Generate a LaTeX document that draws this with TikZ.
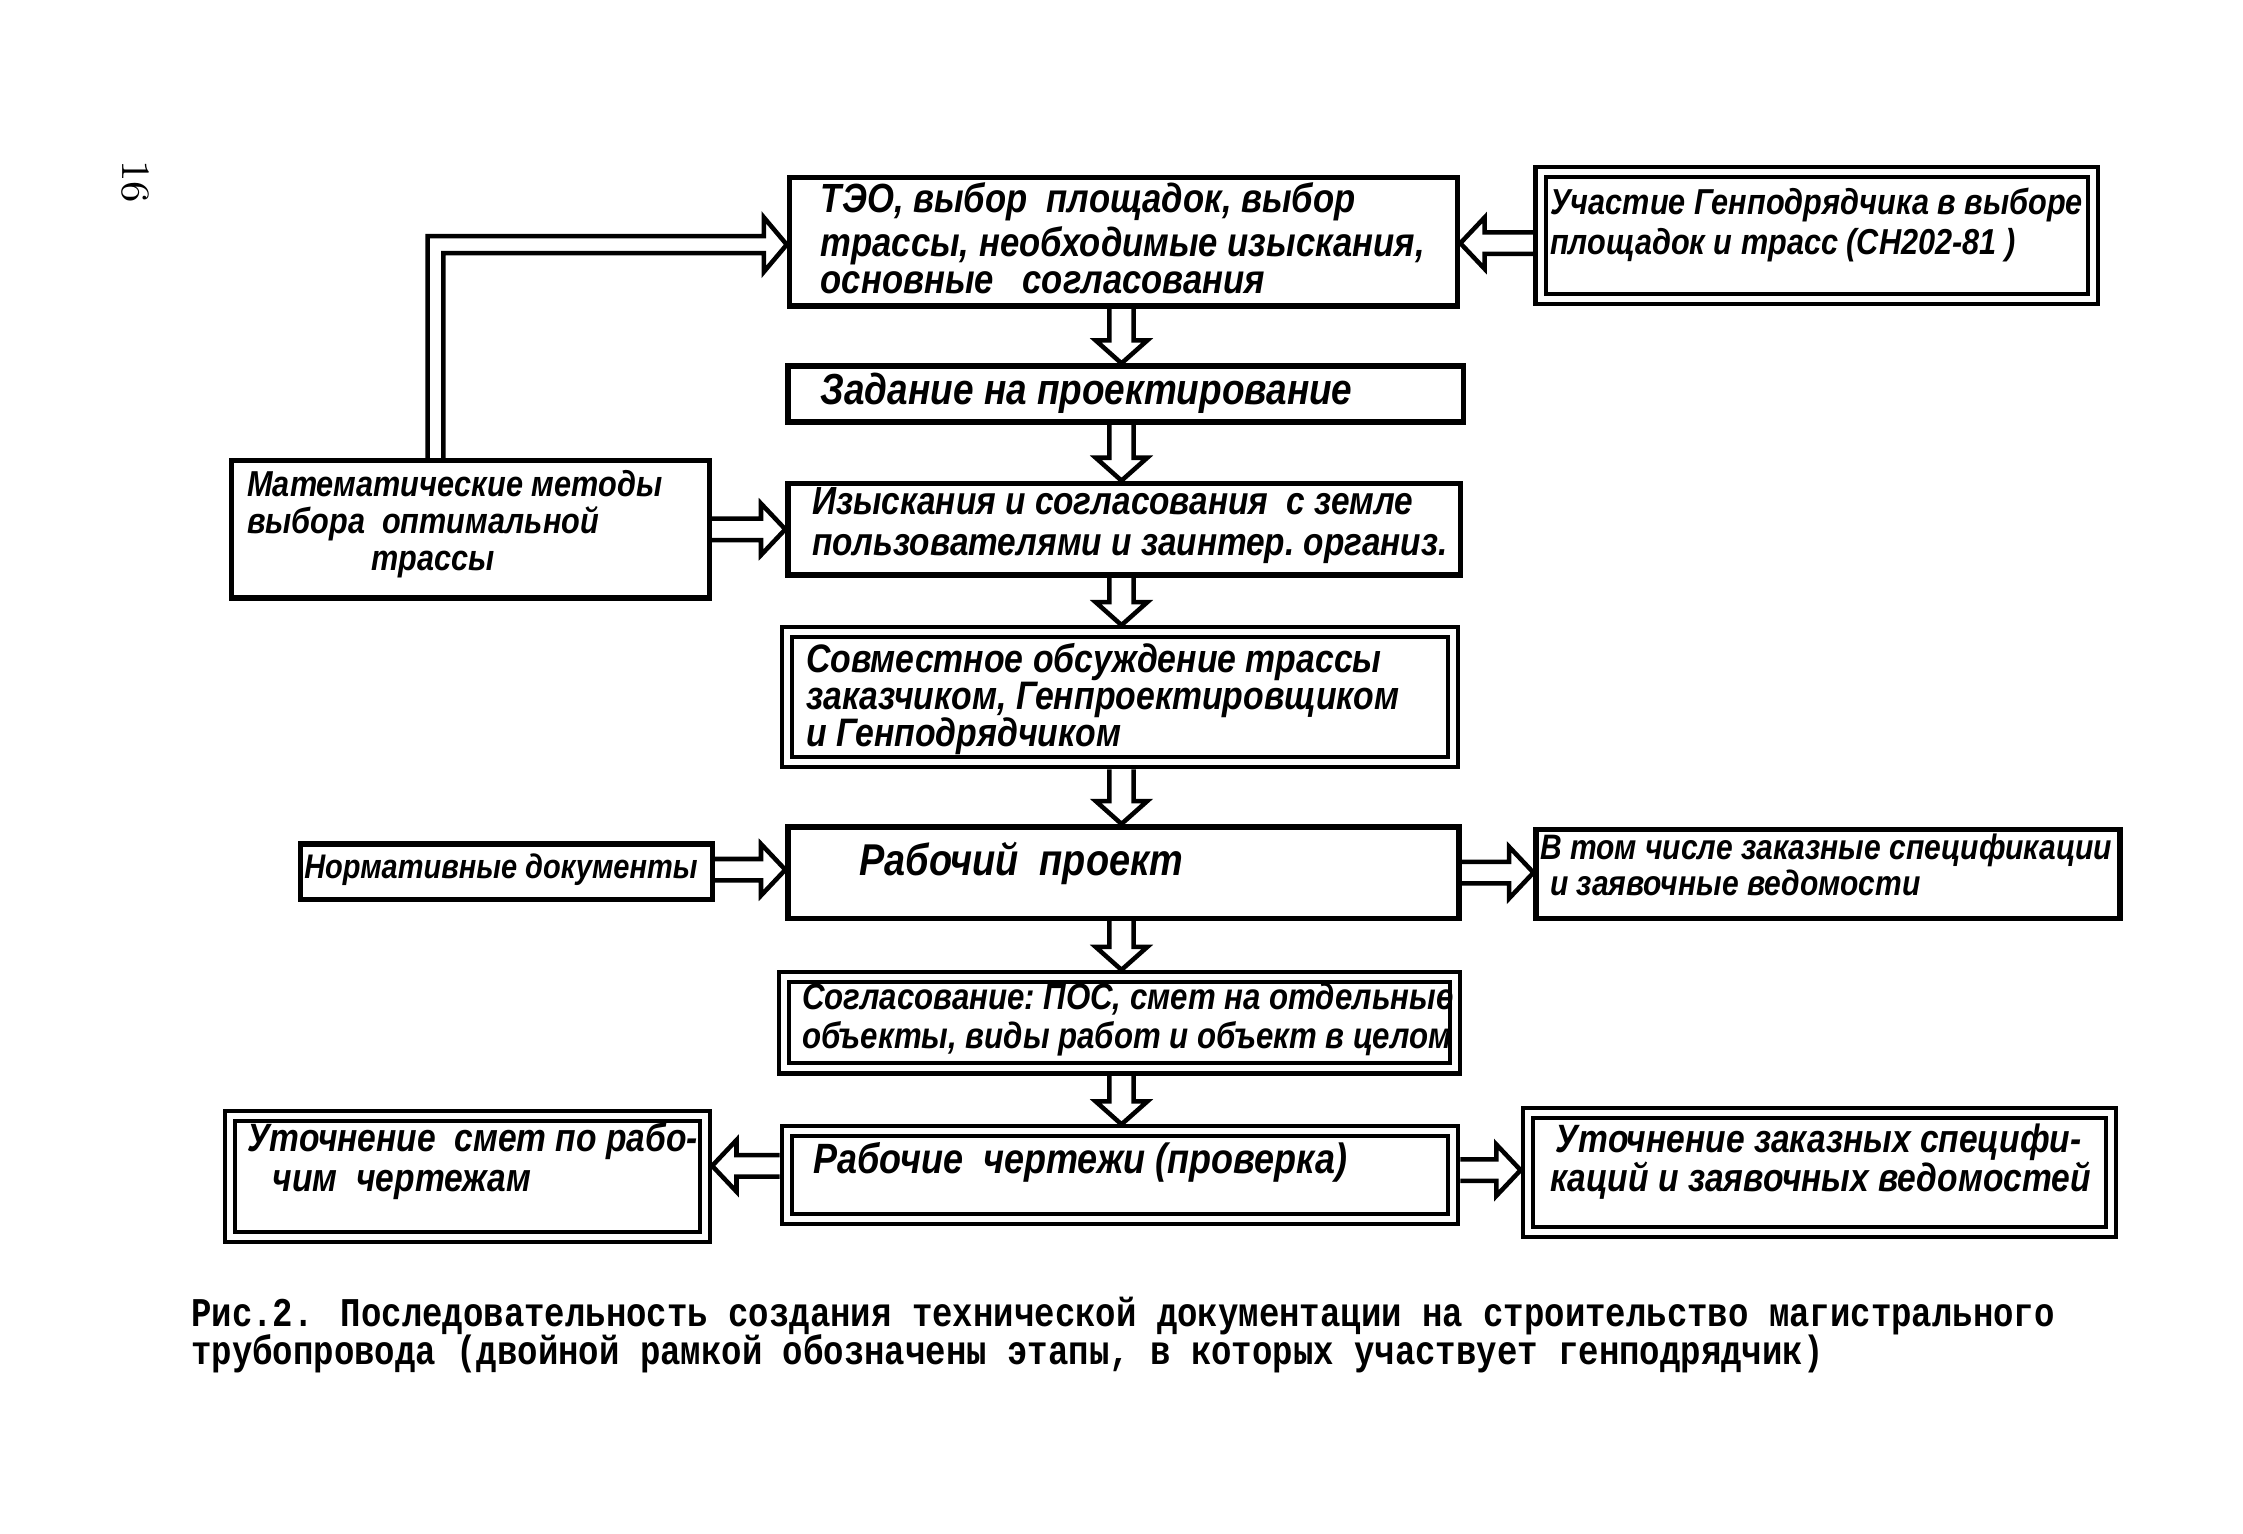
\documentclass[tikz,border=0pt]{standalone}
\usepackage{fontspec}
\newfontfamily\gost{Liberation Sans}[FakeStretch=0.85]
\newfontfamily\capfont{Liberation Mono}
\usetikzlibrary{calc}
\tikzset{
  wh/.style 2 args={minimum width=#1*0.01cm, minimum height=#2*0.01cm},
  sbox/.style={draw, line width=1.1pt, anchor=north west, inner sep=0pt},
  dbox/.style={draw, line width=0.8pt, double, double distance=1.2pt, outer sep=1.4pt, anchor=north west, inner sep=0pt},
  txt/.style={anchor=base west, inner sep=0pt, align=left},
  fs/.style 2 args={font=\gost\bfseries\itshape\frenchspacing\fontsize{#1}{#2}\selectfont},
  hollow/.style n args={3}{line width=0.9pt, line join=miter, to path={
    ($(\tikztotarget)!#3!(\tikztostart)$) coordinate (hb)
    ($(\tikztostart)!#1!90:(\tikztotarget)$) -- ($(hb)!#1!90:(\tikztotarget)$)
    -- ($(hb)!#2!90:(\tikztotarget)$) -- (\tikztotarget)
    -- ($(hb)!#2!-90:(\tikztotarget)$) -- ($(hb)!#1!-90:(\tikztotarget)$)
    -- ($(\tikztostart)!#1!-90:(\tikztotarget)$)}},
  varr/.style={hollow={0.085cm}{0.18cm}{0.16cm}},
  harr/.style={hollow={0.075cm}{0.18cm}{0.17cm}},
  arrline/.style={line width=0.9pt, line join=miter},
  captxt/.style={anchor=base west, inner sep=0pt, font=\capfont\bfseries\fontsize{6.76pt}{7pt}\selectfont},
}
\begin{document}
\begin{tikzpicture}[x=0.01cm, y=-0.01cm]
\useasboundingbox (0,0) rectangle (1568,1072);

% page number
\node[rotate=-90, inner sep=0pt] (pg) at (95,127) {\fontsize{8pt}{8pt}\selectfont 16};

% boxes
\node[sbox, wh={467}{90}]  (b1) at (550,122) {};
\node[dbox, wh={386}{89}]  (b2) at (1072,115) {};
\node[sbox, wh={472}{39}]  (b3) at (549,254) {};
\node[sbox, wh={470}{64}]  (b4) at (549,336) {};
\node[sbox, wh={334}{96}]  (math) at (160,320) {};
\node[dbox, wh={466}{91}]  (b5) at (545,437) {};
\node[sbox, wh={469}{64}]  (b6) at (549,576) {};
\node[sbox, wh={288}{39}]  (norm) at (208,588) {};
\node[sbox, wh={408}{62}]  (vtom) at (1072,578) {};
\node[dbox, wh={469}{64}]  (b7) at (543,678) {};
\node[dbox, wh={466}{61}]  (b8) at (545,786) {};
\node[dbox, wh={332}{85}]  (utl) at (156,775) {};
\node[dbox, wh={408}{83}]  (utr) at (1063,773) {};

% texts (anchor = baseline of the last line)
\node[txt, fs={8.1pt}{7.4pt}] (t1) at (573,205)
  {ТЭО, выбор\ \ площадок, выбор\\трассы, необходимые изыскания,\\основные\ \ \ согласования};
\node[txt, fs={7.17pt}{8pt}] (t2) at (1083,178)
  {Участие Генподрядчика в выборе\\площадок и трасс (СН202-81 )};
\node[txt, fs={8.64pt}{8pt}] (t3) at (573,283) {Задание\ на\ проектирование};
\node[txt, fs={7.8pt}{8pt}] (t4) at (567,388)
  {Изыскания\ и согласования\ \ с земле\\пользователями и заинтер. организ.};
\node[txt, fs={7.17pt}{7.4pt}] (tm) at (172,399)
  {Математические методы\\выбора\ \ оптимальной\\\hspace*{0.87cm}трассы};
\node[txt, fs={7.9pt}{7.4pt}] (t5) at (563,522)
  {Совместное обсуждение трассы\\заказчиком, Генпроектировщиком\\и Генподрядчиком};
\node[txt, fs={8.86pt}{8pt}] (t6) at (600,612) {Рабочий\ \ проект};
\node[txt, fs={6.78pt}{8pt}] (tn) at (212,614) {Нормативные документы};
\node[txt, fs={7.02pt}{7.1pt}] (tv) at (1076,626)
  {В том числе заказные спецификации\\\hspace*{0.07cm}и заявочные ведомости};
\node[txt, fs={7.3pt}{7.7pt}] (t7) at (560,733)
  {Согласование: ПОС, смет на отдельные\\объекты, виды работ и объект в целом};
\node[txt, fs={8.42pt}{8pt}] (t8) at (568,820) {Рабочие\ \ чертежи (проверка)};
\node[txt, fs={7.85pt}{8pt}] (tl) at (172,833)
  {Уточнение\ \ смет по рабо-\\\hspace*{0.18cm}чим\ \ чертежам};
\node[txt, fs={7.85pt}{7.7pt}] (tr) at (1087,833)
  {Уточнение заказных специфи-\\\hspace*{-0.04cm}каций и заявочных ведомостей};

% caption
\node[captxt] (cap1) at (133,927)
  {\scalebox{1}[1.2]{Рис.2. Последовательность создания технической документации на строительство магистрального}};
\node[captxt] (cap2) at (133,954)
  {\scalebox{1}[1.2]{трубопровода (двойной рамкой обозначены этапы, в которых участвует генподрядчик)}};

% vertical arrows
\coordinate (ax) at (784,0);
\draw[varr] (b1.south -| ax) to (b3.north -| ax);
\draw[varr] (b3.south -| ax) to (b4.north -| ax);
\draw[varr] (b4.south -| ax) to (b5.north -| ax);
\draw[varr] (b5.south -| ax) to (b6.north -| ax);
\draw[varr] (b6.south -| ax) to (b7.north -| ax);
\draw[varr] (b7.south -| ax) to (b8.north -| ax);

% horizontal arrows
\draw[harr] (b2.west |- 0,170) to (b1.east |- 0,170);
\draw[harr] (math.east |- 0,370) to (b4.west |- 0,370);
\draw[harr] (norm.east |- 0,608) to (b6.west |- 0,608);
\draw[harr] (b6.east |- 0,610) to (vtom.west |- 0,610);
\draw[harr] (b8.west |- 0,815) to (utl.east |- 0,815);
\draw[harr] (b8.east |- 0,818) to (utr.west |- 0,818);

% L-shaped arrow from math box to b1
\draw[arrline] (299,0 |- math.north) |- (534,165) -- (534,152) -- (b1.west |- 0,171)
  -- (534,190) -- (534,177) -| (310,0 |- math.north);
\end{tikzpicture}
\end{document}
